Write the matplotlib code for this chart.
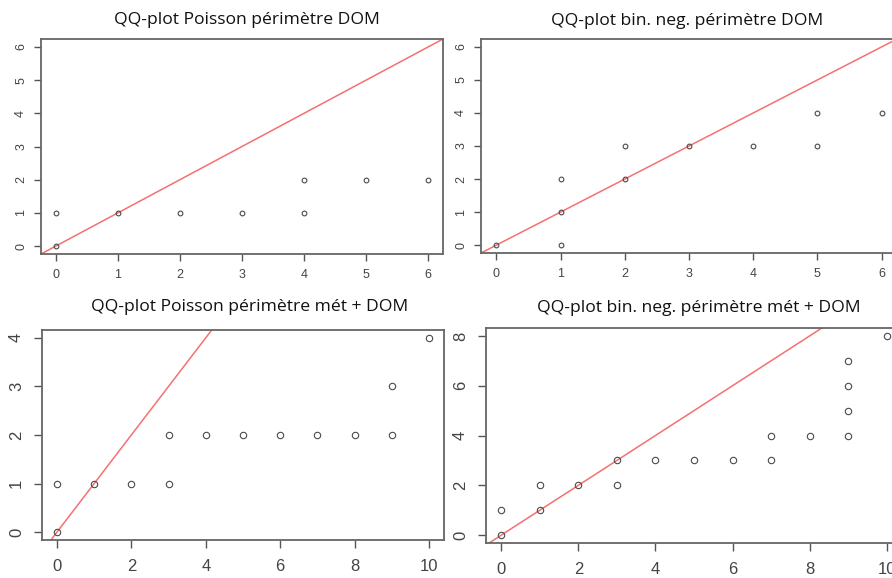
import matplotlib.pyplot as plt

W, H = 892, 578

# QQ-plot data (theoretical quantile, empirical quantile)
pois_dom_x = [0, 0, 1, 2, 3, 4, 4, 5, 6]
pois_dom_y = [0, 1, 1, 1, 1, 1, 2, 2, 2]

bn_dom_x = [0, 1, 1, 1, 2, 2, 3, 4, 5, 5, 6]
bn_dom_y = [0, 0, 1, 2, 2, 3, 3, 3, 3, 4, 4]

pois_met_x = [0, 0, 1, 2, 3, 3, 4, 5, 6, 7, 8, 9, 9, 10]
pois_met_y = [0, 1, 1, 1, 1, 2, 2, 2, 2, 2, 2, 2, 3, 4]

bn_met_x = [0, 0, 1, 1, 2, 3, 3, 4, 5, 6, 7, 7, 8, 9, 9, 9, 9, 10]
bn_met_y = [0, 1, 1, 2, 2, 2, 3, 3, 3, 3, 3, 4, 4, 4, 5, 6, 7, 8]

titles = ["QQ-plot Poisson périmètre DOM",
          "QQ-plot bin. neg. périmètre DOM",
          "QQ-plot Poisson périmètre mét + DOM",
          "QQ-plot bin. neg. périmètre mét + DOM"]

xticks_top = [0, 1, 2, 3, 4, 5, 6]
yticks_top = [0, 1, 2, 3, 4, 5, 6]
xticks_bot = [0, 2, 4, 6, 8, 10]
yticks_p3 = [0, 1, 2, 3, 4]
yticks_p4 = [0, 2, 4, 6, 8]

fig = plt.figure(figsize=(W / 100, H / 100), dpi=100)


def add_panel(box, x, y, xlim, ylim, xt, yt, title, tpos, big):
    l, t, r, b = box
    ax = fig.add_axes([l / W, 1 - b / H, (r - l) / W, (b - t) / H])
    fs = 12 if big else 9
    ms = 4.6 if big else 3.4
    ax.plot(x, y, 'o', mfc='none', mec='#4a4a4a', ms=ms, mew=0.8, zorder=3)
    ax.axline((0, 0), slope=1, color='#f57070', lw=1.1, zorder=2)
    ax.set_xlim(*xlim)
    ax.set_ylim(*ylim)
    ax.set_xticks(xt)
    ax.set_yticks(yt)
    ax.tick_params(length=6 if big else 5, width=1.0, color='#555555',
                   labelcolor='#444444', labelsize=fs)
    ax.tick_params(axis='x', pad=8 if big else 6)
    ax.tick_params(axis='y', pad=7 if big else 5)
    for lab in ax.get_yticklabels():
        lab.set_rotation(90)
        lab.set_va('center')
    for s in ax.spines.values():
        s.set_color('#666666')
        s.set_linewidth(1.3)
    for lab in ax.get_xticklabels() + ax.get_yticklabels():
        lab.set_family('Liberation Sans')
    fig.text(tpos[0] / W, 1 - tpos[1] / H, title, ha='center', va='center',
             fontsize=12.6, family='Open Sans', color='#111111')
    return ax


add_panel((41, 39, 443, 254), pois_dom_x, pois_dom_y, (-0.24, 6.24), (-0.24, 6.24),
          xticks_top, yticks_top, titles[0], (247, 20), False)
add_panel((481, 39, 897, 253), bn_dom_x, bn_dom_y, (-0.24, 6.24), (-0.24, 6.24),
          xticks_top, yticks_top, titles[1], (687, 21), False)
add_panel((42, 330, 444, 540), pois_met_x, pois_met_y, (-0.4, 10.4), (-0.16, 4.16),
          xticks_bot, yticks_p3, titles[2], (250, 307), True)
add_panel((486, 328, 902, 543), bn_met_x, bn_met_y, (-0.4, 10.4), (-0.32, 8.32),
          xticks_bot, yticks_p4, titles[3], (699, 308), True)

fig.savefig('out.png', dpi=100)
